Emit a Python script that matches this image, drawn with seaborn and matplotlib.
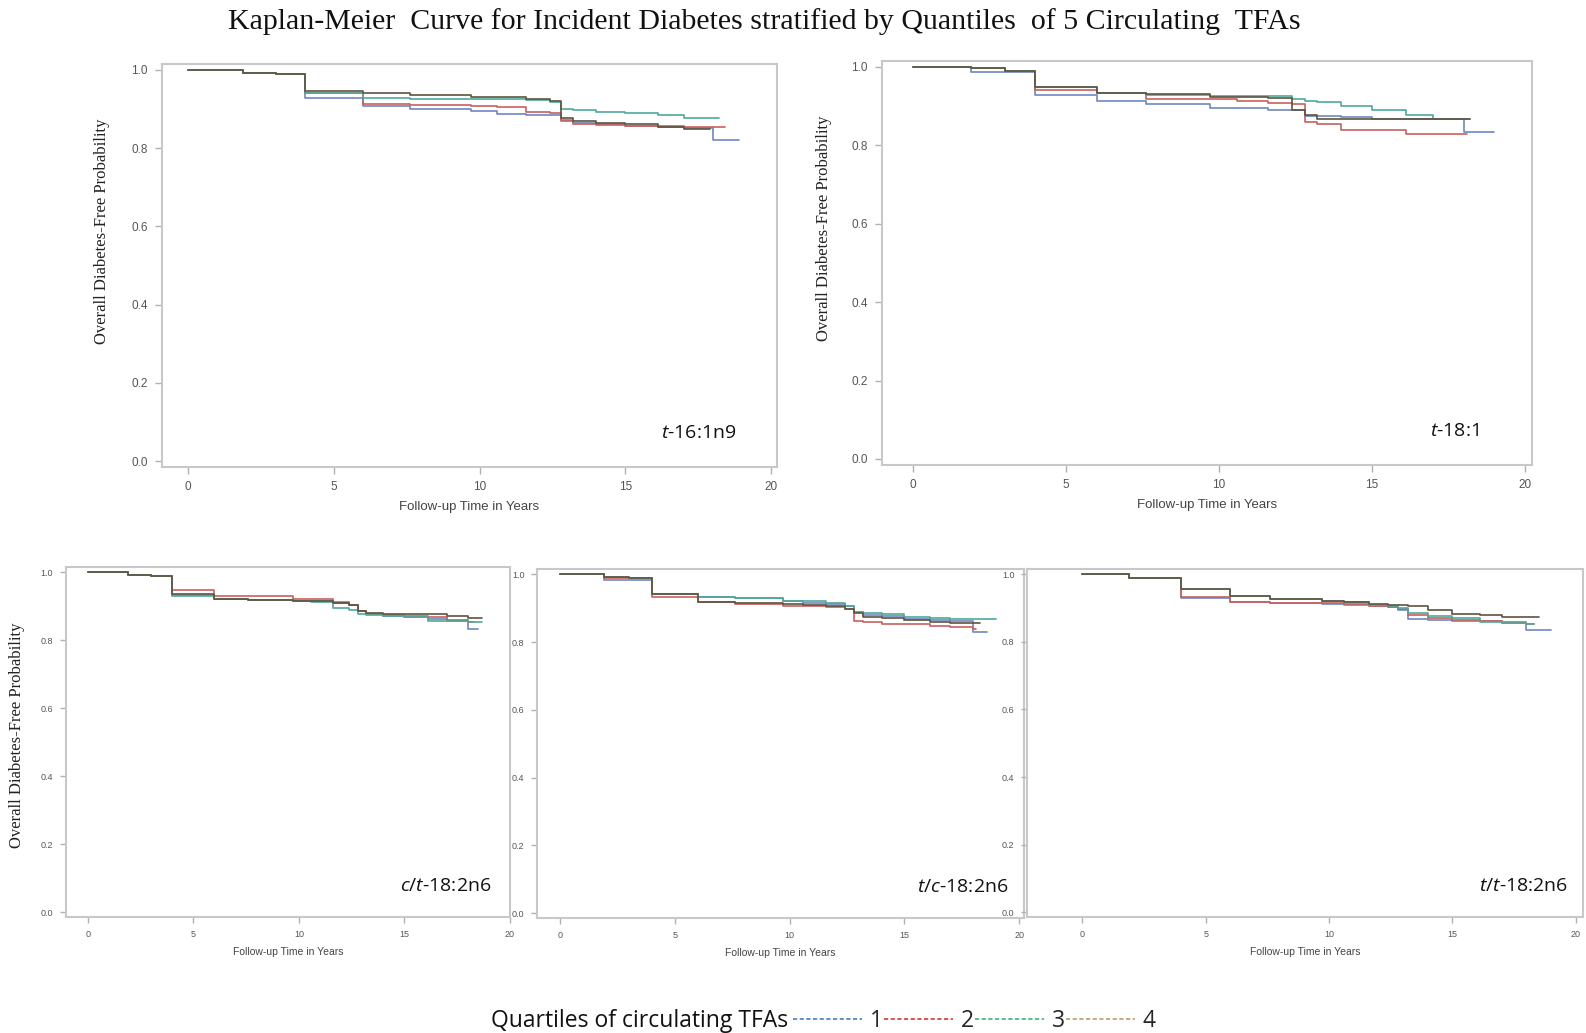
import numpy as np
import pandas as pd
import seaborn as sns
import matplotlib.pyplot as plt
from matplotlib.lines import Line2D

# Data (survival at common step times)
STEP_TIMES = [0, 1.9, 3.0, 4.0, 6.0, 7.6, 9.7, 10.6, 11.6, 12.4, 12.8, 13.2, 14.0, 15.0, 16.1, 17.0, 18.0]
QUARTILES = ['1', '2', '3', '4']

# t-16:1n9
P1_Q1 = [1, .992, .99, .928, .907, .900, .895, .888, .884, .884, .871, .865, .862, .857, .855, .851, .820]
P1_Q2 = [1, .992, .99, .940, .913, .910, .908, .905, .893, .890, .869, .862, .860, .857, .856, .855, .854]
P1_Q3 = [1, .992, .99, .940, .928, .926, .925, .925, .922, .918, .900, .898, .893, .890, .884, .878, .876]
P1_Q4 = [1, .992, .99, .945, .941, .935, .932, .930, .926, .920, .878, .870, .865, .861, .855, .848, .848]
P1_END = [18.9, 18.4, 18.2, 17.9]

# t-18:1
P2_Q1 = [1, .987, .987, .928, .912, .904, .895, .895, .891, .891, .874, .874, .872, .866, .866, .866, .834]
P2_Q2 = [1, .996, .990, .942, .932, .917, .917, .914, .908, .905, .860, .853, .840, .840, .829, .829, .829]
P2_Q3 = [1, .996, .990, .949, .934, .928, .926, .925, .925, .917, .912, .910, .900, .891, .878, .866, .866]
P2_Q4 = [1, .996, .990, .949, .934, .930, .923, .923, .920, .891, .878, .866, .866, .866, .866, .866, .866]
P2_END = [19.0, 18.1, 18.2, 18.2]

# c/t-18:2n6
P3_Q1 = [1, .993, .99, .932, .920, .917, .914, .914, .910, .905, .885, .876, .872, .867, .862, .857, .833]
P3_Q2 = [1, .993, .99, .948, .929, .929, .921, .921, .911, .905, .885, .878, .875, .872, .868, .860, .855]
P3_Q3 = [1, .993, .99, .930, .920, .919, .914, .912, .895, .890, .876, .873, .872, .868, .857, .857, .855]
P3_Q4 = [1, .993, .99, .935, .922, .919, .914, .914, .910, .905, .885, .880, .878, .878, .878, .871, .866]
P3_END = [18.5, 18.3, 18.7, 18.7]

# t/c-18:2n6
P4_Q1 = [1, .982, .982, .943, .934, .929, .922, .915, .913, .905, .888, .880, .878, .868, .866, .862, .829]
P4_Q2 = [1, .990, .990, .934, .917, .912, .907, .905, .904, .898, .863, .860, .854, .852, .846, .843, .839]
P4_Q3 = [1, .992, .990, .943, .934, .929, .922, .920, .914, .905, .888, .885, .882, .875, .872, .868, .868]
P4_Q4 = [1, .992, .990, .943, .917, .915, .912, .910, .905, .898, .885, .873, .870, .865, .859, .857, .857]
P4_END = [18.6, 18.1, 19.0, 18.3]

# t/t-18:2n6
P5_Q1 = [1, .99, .99, .930, .917, .914, .912, .910, .905, .902, .895, .868, .866, .863, .861, .860, .836]
P5_Q2 = [1, .99, .99, .932, .917, .915, .915, .912, .905, .903, .898, .878, .872, .866, .862, .855, .852]
P5_Q3 = [1, .99, .99, .955, .937, .928, .922, .918, .910, .905, .900, .885, .876, .872, .860, .856, .854]
P5_Q4 = [1, .99, .99, .956, .937, .927, .920, .917, .912, .910, .908, .907, .895, .883, .880, .873, .873]
P5_END = [19.0, 18.3, 18.3, 18.5]

PANEL_LABELS = [r'$\it{t}$-16:1n9', r'$\it{t}$-18:1', r'$\it{c/t}$-18:2n6',
                r'$\it{t/c}$-18:2n6', r'$\it{t/t}$-18:2n6']

LINE_COLORS = ['#6f86c2', '#c8605c', '#4fa89a', '#5e5440']
LEGEND_COLORS = ['#3f7fd0', '#d03a3a', '#3cb37a', '#b8a070']

sns.set_style('white')
plt.rcParams['mathtext.fontset'] = 'custom'
plt.rcParams['mathtext.rm'] = 'Open Sans'
plt.rcParams['mathtext.it'] = 'Open Sans:italic'


def km_frame(series, ends):
    rows = []
    for q, surv, end in zip(QUARTILES, series, ends):
        for t, s in zip(STEP_TIMES, surv):
            if t < end:
                rows.append((q, t, s))
                last = s
        rows.append((q, end, last))
    return pd.DataFrame(rows, columns=['quartile', 'time', 'surv'])


panels = [
    ([P1_Q1, P1_Q2, P1_Q3, P1_Q4], P1_END, [0.102, 0.548, 0.388, 0.390], (-0.9, 20.2), 0.585, 'big'),
    ([P2_Q1, P2_Q2, P2_Q3, P2_Q4], P2_END, [0.556, 0.550, 0.410, 0.391], (-1.02, 20.23), 0.585, 'big'),
    ([P3_Q1, P3_Q2, P3_Q3, P3_Q4], P3_END, [0.0415, 0.112, 0.280, 0.339], (-1.04, 18.74), 0.52, 'small'),
    ([P4_Q1, P4_Q2, P4_Q3, P4_Q4], P4_END, [0.3386, 0.111, 0.307, 0.338], (-1.0, 20.2), None, 'small'),
    ([P5_Q1, P5_Q2, P5_Q3, P5_Q4], P5_END, [0.6475, 0.112, 0.3506, 0.337], (-2.25, 20.29), None, 'small'),
]
label_pos = [(0.934, 0.085), (0.918, 0.083), (0.959, 0.09), (0.969, 0.09), (0.973, 0.09)]
ylabel_x = [-0.084, -0.076, -0.093]

fig = plt.figure(figsize=(15.86, 10.33), dpi=100)

for i, (series, ends, rect, xlim, ylab_y, size) in enumerate(panels):
    ax = fig.add_axes(rect)
    df = km_frame(series, ends)
    sns.lineplot(data=df, x='time', y='surv', hue='quartile', palette=LINE_COLORS,
                 estimator=None, sort=False, drawstyle='steps-post', linewidth=1.2,
                 legend=False, ax=ax)
    ax.set_xlim(*xlim)
    ax.set_ylim(-0.015, 1.015)
    ax.set_xticks([0, 5, 10, 15, 20])
    ax.set_yticks([0.0, 0.2, 0.4, 0.6, 0.8, 1.0])
    ax.set_yticklabels(['0.0', '0.2', '0.4', '0.6', '0.8', '1.0'])
    tick_fs = 8.5 if size == 'big' else 6.5
    lab_fs = 9.5 if size == 'big' else 7.5
    ax.tick_params(axis='both', which='major', bottom=True, left=True, direction='out',
                   length=5 if size == 'big' else 4, width=1, color='#b0b0b0',
                   labelsize=tick_fs, labelcolor='#555555', pad=5)
    for lbl in ax.get_xticklabels() + ax.get_yticklabels():
        lbl.set_family('Liberation Sans')
    for sp in ax.spines.values():
        sp.set_color('#c8c8c8')
        sp.set_linewidth(1.5)
    ax.set_xlabel('Follow-up Time in Years', fontsize=lab_fs, color='#444444',
                  family='Liberation Sans', labelpad=6)
    if ylab_y is not None:
        ax.set_ylabel('Overall Diabetes-Free Probability', fontsize=12,
                      family='Liberation Serif', color='#222222')
        ax.yaxis.set_label_coords(ylabel_x[i], ylab_y)
    else:
        ax.set_ylabel('')
    ax.text(label_pos[i][0], label_pos[i][1], PANEL_LABELS[i], transform=ax.transAxes,
            ha='right', va='center', fontsize=14, family='Open Sans', color='#111111')

fig.text(0.482, 0.979, 'Kaplan-Meier  Curve for Incident Diabetes stratified by Quantiles  of 5 Circulating  TFAs',
         ha='center', va='center', fontsize=21.5, family='Liberation Serif', color='#111111')

fig.text(0.3095, 0.0115, 'Quartiles of circulating TFAs', ha='left', va='center',
         fontsize=16.5, family='Open Sans', color='#111111')
handles = [Line2D([], [], color=c, linestyle=(0, (2.5, 1.5)), linewidth=1.2) for c in LEGEND_COLORS]
leg = fig.legend(handles, QUARTILES, loc='center left', bbox_to_anchor=(0.5, 0.0115),
                 ncol=4, frameon=False, handlelength=3.0, handletextpad=0.35,
                 columnspacing=0.05, borderaxespad=0, borderpad=0,
                 prop={'family': 'Open Sans', 'size': 16.5})

plt.savefig('out.png', dpi=100)
